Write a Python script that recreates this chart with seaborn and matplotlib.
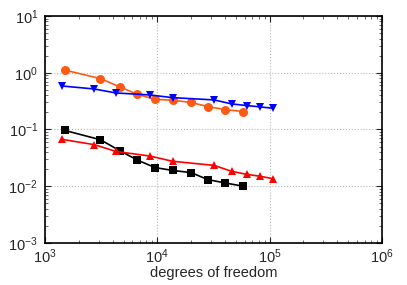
import matplotlib
matplotlib.use('Agg')
import matplotlib.pyplot as plt
import matplotlib.ticker as mticker
import pandas as pd
import seaborn as sns

# degrees of freedom for each series
dof_a = [1507, 3110, 4660, 6640, 9550, 13700, 19950, 28100, 40400, 58400]
dof_b = [1417, 2750, 4290, 8610, 13700, 32000, 45900, 62500, 82200, 106000]

err_orange = [1.11, 0.79, 0.56, 0.417, 0.34, 0.327, 0.30, 0.253, 0.224, 0.207]
err_blue = [0.584, 0.517, 0.44, 0.406, 0.364, 0.332, 0.282, 0.264, 0.25, 0.237]
err_black = [0.096, 0.066, 0.042, 0.0289, 0.0213, 0.019, 0.0174, 0.0131, 0.0114, 0.0100]
err_red = [0.067, 0.054, 0.041, 0.034, 0.0275, 0.0233, 0.0183, 0.0162, 0.015, 0.0136]

series = [
    ('orange', dof_a, err_orange, '#ff5a14', 'o', 6.5),
    ('blue', dof_b, err_blue, '#0000ff', 'v', 5.5),
    ('black', dof_a, err_black, '#000000', 's', 5.5),
    ('red', dof_b, err_red, '#ff0000', '^', 5.5),
]

sns.set_style('ticks')
plt.rcParams['font.family'] = ['Liberation Sans', 'DejaVu Sans']
plt.rcParams['font.size'] = 10.5

fig = plt.figure(figsize=(4.07, 2.85), dpi=100)
ax = fig.add_axes([0.1106, 0.1474, 0.8280, 0.7965])

for name, x, y, c, m, ms in series:
    df = pd.DataFrame({'dof': x, 'err': y})
    sns.lineplot(data=df, x='dof', y='err', ax=ax, color=c, marker=m,
                 markersize=ms, markeredgewidth=0, linewidth=1.2)

ax.set_xscale('log')
ax.set_yscale('log')
ax.set_xlim(1e3, 1e6)
ax.set_ylim(1e-3, 1e1)
ax.set_xlabel('degrees of freedom', fontsize=10.5, labelpad=0)
ax.set_ylabel('')

ax.xaxis.set_major_locator(mticker.LogLocator(base=10, numticks=10))
ax.yaxis.set_major_locator(mticker.LogLocator(base=10, numticks=10))
ax.xaxis.set_minor_locator(mticker.LogLocator(base=10, subs=range(2, 10), numticks=10))
ax.yaxis.set_minor_locator(mticker.LogLocator(base=10, subs=range(2, 10), numticks=10))

ax.grid(True, which='major', ls=':', lw=0.8, c='#b8b8b8')
ax.tick_params(which='both', direction='in', top=True, right=True,
               labelsize=10.5)
ax.tick_params(axis='x', pad=3)
ax.tick_params(axis='y', pad=5)
ax.tick_params(which='major', length=4, width=0.8)
ax.tick_params(which='minor', length=2, width=0.6, color='#555555')
for s in ax.spines.values():
    s.set_linewidth(1.2)
    s.set_color('black')

fig.savefig('out.png', dpi=100)
